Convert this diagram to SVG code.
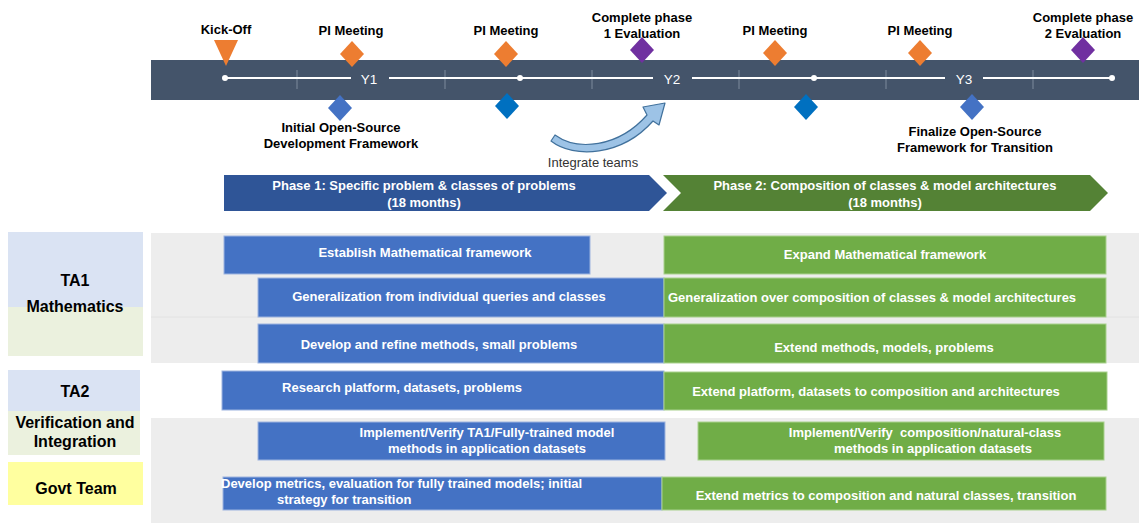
<svg xmlns="http://www.w3.org/2000/svg" width="1139" height="523" viewBox="0 0 1139 523">
<style>
.lbl{font-family:"Liberation Sans",Arial,sans-serif;font-weight:bold;font-size:13px;fill:#000;text-anchor:middle}
.bt{font-family:"Liberation Sans",Arial,sans-serif;font-weight:bold;font-size:13px;fill:#fff;text-anchor:middle}
.side{font-family:"Liberation Sans",Arial,sans-serif;font-weight:bold;font-size:16px;fill:#000;text-anchor:middle}
.yl{font-family:"Liberation Sans",Arial,sans-serif;font-size:13.5px;fill:#fff;text-anchor:middle}
.blue{fill:#4472c4;stroke:#9db4e0;stroke-width:1}
.green{fill:#70ad47;stroke:#a9d18e;stroke-width:1}
.band{fill:#ededed}
.tick{stroke:#7d8a9c;stroke-width:1}
.tl{stroke:#fff;stroke-width:2;fill:none}
</style>
<rect width="1139" height="523" fill="#fff"/>
<g id="bands">
<rect class="band" x="151" y="233" width="988" height="130"/>
<line x1="151" y1="317" x2="1139" y2="317" stroke="#e2e2e2" stroke-width="1"/>
<rect class="band" x="151" y="418" width="988" height="105"/>
</g>
<g id="timeline">
<rect x="151" y="60" width="988" height="40" fill="#44546a"/>
<g class="tick">
<line x1="297" y1="70" x2="297" y2="89"/><line x1="445" y1="70" x2="445" y2="89"/><line x1="592" y1="70" x2="592" y2="89"/>
<line x1="739" y1="70" x2="739" y2="89"/><line x1="886" y1="70" x2="886" y2="89"/><line x1="1033" y1="70" x2="1033" y2="89"/>
</g>
<path class="tl" d="M225,78 H351 M389,78 H653 M692,78 H945 M983,78 H1112"/>
<g fill="#fff"><circle cx="225" cy="78" r="3"/><circle cx="520" cy="78" r="3"/><circle cx="814" cy="78" r="3"/><circle cx="1112" cy="78" r="3"/></g>
<text class="yl" x="369" y="84">Y1</text>
<text class="yl" x="672" y="84">Y2</text>
<text class="yl" x="964" y="84">Y3</text>
</g>
<g id="kickoff"><polygon points="214,40 238,40 226,66" fill="#ed7d31"/><text class="lbl" x="226" y="34">Kick-Off</text></g>
<g id="pi1"><polygon points="352,41 364,54 352,67 340,54" fill="#ed7d31"/><text class="lbl" x="351" y="35">PI Meeting</text></g>
<g id="pi2"><polygon points="506,41 518,54 506,67 494,54" fill="#ed7d31"/><text class="lbl" x="506" y="35">PI Meeting</text></g>
<g id="eval1"><polygon points="642,37 654,50 642,63 630,50" fill="#7030a0"/><text class="lbl" x="642" y="22">Complete phase</text><text class="lbl" x="642" y="38">1 Evaluation</text></g>
<g id="pi3"><polygon points="775,40 787,53 775,66 763,53" fill="#ed7d31"/><text class="lbl" x="775" y="35">PI Meeting</text></g>
<g id="pi4"><polygon points="920,40 932,53 920,66 908,53" fill="#ed7d31"/><text class="lbl" x="920" y="35">PI Meeting</text></g>
<g id="eval2"><polygon points="1083,37 1095,50 1083,63 1071,50" fill="#7030a0"/><text class="lbl" x="1083" y="22">Complete phase</text><text class="lbl" x="1083" y="38">2 Evaluation</text></g>
<g id="framework-initial"><polygon points="340,95 352,108 340,121 328,108" fill="#4472c4"/><text class="lbl" x="341" y="132">Initial Open-Source</text><text class="lbl" x="341" y="148">Development Framework</text></g>
<g id="ms-blue2"><polygon points="507,93 519,106 507,119 495,106" fill="#0070c0"/></g>
<g id="ms-blue3"><polygon points="806,94 818,107 806,120 794,107" fill="#0070c0"/></g>
<g id="framework-final"><polygon points="972,94 984,107 972,120 960,107" fill="#4472c4"/><text class="lbl" x="975" y="136">Finalize Open-Source</text><text class="lbl" x="975" y="152">Framework for Transition</text></g>
<g id="connectors">
<path d="M555,135 C577,151 618,148 647,115 L643,107 L665,103 L659,125 L653,121 C622,156 574,159 551,141 Z" fill="#9dc3e6" stroke="#41719c" stroke-width="1.2" stroke-linejoin="round"/>
</g>
<g id="integrate-label"><text x="593" y="167" font-family="Liberation Sans, Arial, sans-serif" font-size="13" fill="#333" text-anchor="middle">Integrate teams</text></g>
<g id="phase1"><polygon points="224,175 649,175 667,193 649,211 224,211" fill="#2f5597"/><text class="bt" x="424" y="190">Phase 1: Specific problem &amp; classes of problems</text><text class="bt" x="424" y="207">(18 months)</text></g>
<g id="phase2"><polygon points="663,175 1090,175 1108,193 1090,211 663,211 681,193" fill="#548235"/><text class="bt" x="885" y="190">Phase 2: Composition of classes &amp; model architectures</text><text class="bt" x="885" y="207">(18 months)</text></g>
<g id="ta1"><rect x="8" y="232" width="135" height="75" fill="#dae3f3"/><rect x="8" y="307" width="135" height="49" fill="#ebf1de"/><text class="side" x="75" y="286">TA1</text><text class="side" x="75" y="312">Mathematics</text></g>
<g id="ta2"><rect x="8" y="370" width="132" height="41" fill="#dae3f3"/><rect x="8" y="411" width="132" height="44" fill="#ebf1de"/><text class="side" x="75" y="397">TA2</text><text class="side" x="75" y="428">Verification and</text><text class="side" x="75" y="447">Integration</text></g>
<g id="govt"><rect x="8" y="462" width="135" height="43" fill="#ffff9f"/><text class="side" x="76" y="494">Govt Team</text></g>
<g id="t1a"><rect class="blue" x="224" y="236" width="366" height="38"/><text class="bt" x="425" y="257">Establish Mathematical framework</text></g>
<g id="t1b"><rect class="green" x="664" y="236" width="442" height="38"/><text class="bt" x="885" y="259">Expand Mathematical framework</text></g>
<g id="t2a"><rect class="blue" x="258" y="278" width="406" height="39"/><text class="bt" x="449" y="301">Generalization from individual queries and classes</text></g>
<g id="t2b"><rect class="green" x="664" y="278" width="442" height="39"/><text class="bt" x="872" y="302">Generalization over composition of classes &amp; model architectures</text></g>
<g id="t3a"><rect class="blue" x="258" y="324" width="406" height="39"/><text class="bt" x="439" y="349">Develop and refine methods, small problems</text></g>
<g id="t3b"><rect class="green" x="664" y="324" width="442" height="39"/><text class="bt" x="884" y="352">Extend methods, models, problems</text></g>
<g id="t4a"><rect class="blue" x="222" y="371" width="442" height="39"/><text class="bt" x="402" y="392">Research platform, datasets, problems</text></g>
<g id="t4b"><rect class="green" x="664" y="372" width="443" height="38"/><text class="bt" x="876" y="396">Extend platform, datasets to composition and architectures</text></g>
<g id="t5a"><rect class="blue" x="258" y="422" width="407" height="38"/><text class="bt" x="487" y="437">Implement/Verify TA1/Fully-trained model</text><text class="bt" x="487" y="453">methods in application datasets</text></g>
<g id="t5b"><rect class="green" x="698" y="422" width="406" height="38"/><text class="bt" x="925" y="437" xml:space="preserve">Implement/Verify  composition/natural-class</text><text class="bt" x="933" y="453">methods in application datasets</text></g>
<g id="t6a"><rect class="blue" x="223" y="477" width="439" height="33"/><text class="bt" x="221" y="488" style="text-anchor:start">Develop metrics, evaluation for fully trained models; initial</text><text class="bt" x="277" y="504" style="text-anchor:start">strategy for transition</text></g>
<g id="t6b"><rect class="green" x="662" y="477" width="444" height="33"/><text class="bt" x="886" y="500">Extend metrics to composition and natural classes, transition</text></g>
</svg>
